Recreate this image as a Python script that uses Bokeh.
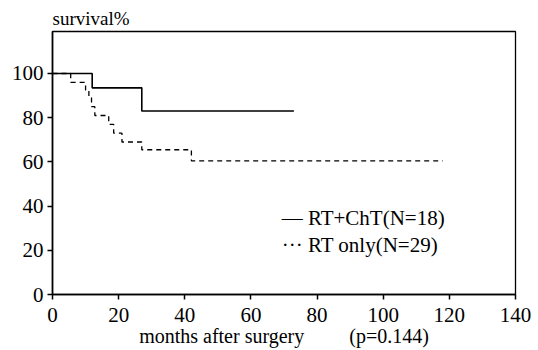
from bokeh.plotting import figure
from bokeh.models import Range1d, FixedTicker, Label
from bokeh.embed import file_html
from bokeh.resources import INLINE

# Kaplan-Meier data
months_chemo = [0, 12, 27, 73]
surv_chemo = [100, 93.5, 83, 83]

months_rt = [0, 5.5, 10, 11, 11.8, 12.8, 17, 18.5, 21, 27, 42, 118]
surv_rt = [100, 96, 92.5, 89, 85, 81, 77, 73, 69, 65.5, 60.5, 60.5]

x_ticks = [0, 20, 40, 60, 80, 100, 120, 140]
y_ticks = [0, 20, 40, 60, 80, 100]

legend_chemo = "— RT+ChT(N=18)"
legend_rt = "··· RT only(N=29)"
title_text = "survival%"
xlabel_text = "months after surgery" + "\u00a0" * 9 + "(p=0.144)"

FONT = "Liberation Serif"

p = figure(width=538, height=350, output_backend="svg", toolbar_location=None,
           x_range=Range1d(0, 140), y_range=Range1d(0, 119),
           min_border_left=52, min_border_right=23, min_border_top=31, min_border_bottom=56)

p.step(months_chemo, surv_chemo, mode="after", line_color="black", line_width=1.6)
p.step(months_rt, surv_rt, mode="after", line_color="black", line_width=1.3, line_dash="5 4")

p.grid.visible = False
p.outline_line_color = "black"
p.outline_line_width = 1.3
p.background_fill_color = "white"
p.border_fill_color = "white"

p.title.text = title_text
p.title.text_font = FONT
p.title.text_font_size = "19px"
p.title.text_font_style = "normal"
p.title.text_color = "black"
p.title.align = "left"
p.title.standoff = 5

xax = p.xaxis[0]
yax = p.yaxis[0]
for ax, ticks in ((xax, x_ticks), (yax, y_ticks)):
    ax.ticker = FixedTicker(ticks=ticks)
    ax.axis_line_color = "black"
    ax.axis_line_width = 1.6
    ax.major_tick_line_color = "black"
    ax.major_tick_line_width = 1.5
    ax.major_tick_in = 0
    ax.major_tick_out = 5
    ax.minor_tick_line_color = None
    ax.major_label_text_font = FONT
    ax.major_label_text_font_size = "21px"
    ax.major_label_text_font_style = "normal"
    ax.major_label_text_color = "black"

xax.major_label_standoff = 8
yax.major_label_standoff = 4
xax.axis_label = xlabel_text
xax.axis_label_text_font = FONT
xax.axis_label_text_font_size = "20px"
xax.axis_label_text_font_style = "normal"
xax.axis_label_text_color = "black"
xax.axis_label_standoff = 0

def add_label(x, y, text, size):
    p.add_layout(Label(x=x, y=y, text=text, text_font=FONT, text_font_size=size,
                       text_color="black", text_baseline="alphabetic", text_align="left"))

add_label(69.3, 34.8, legend_chemo, "21px")
add_label(69.3, 22.6, legend_rt, "21px")

open("out.html", "w").write(file_html(p, INLINE))
